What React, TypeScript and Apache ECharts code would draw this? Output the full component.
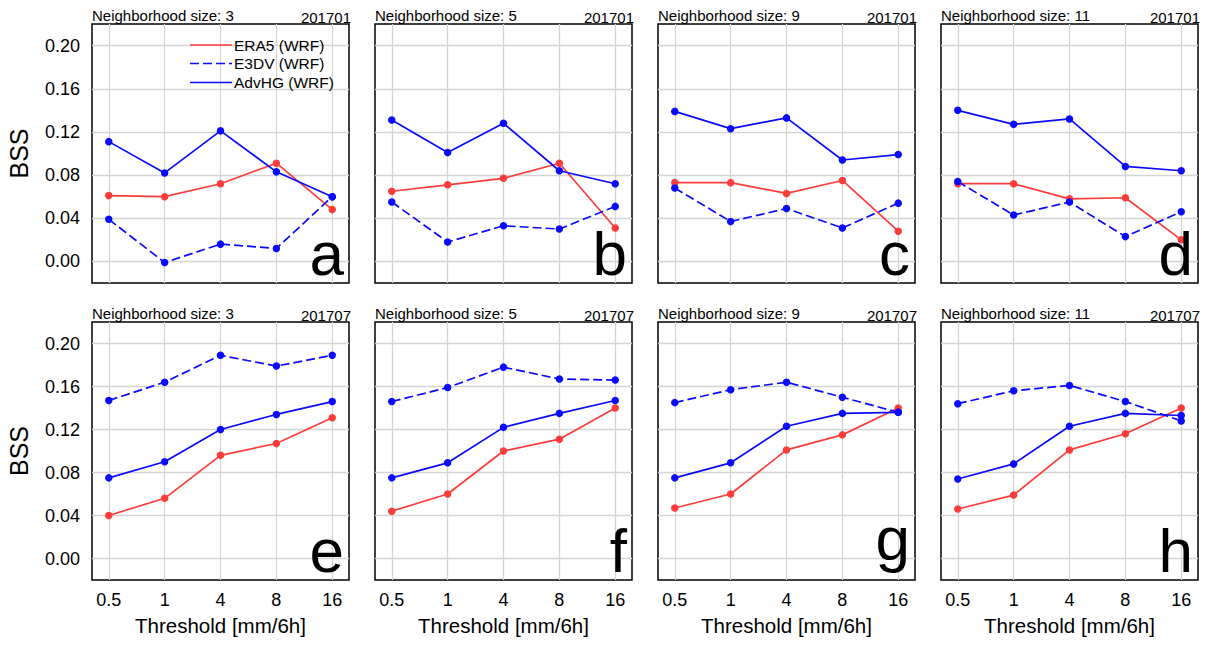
import React, { useEffect, useRef } from "react";
import * as echarts from "echarts";

const thresholds = ["0.5", "1", "4", "8", "16"];
const neighborhoodSizes = [3, 5, 9, 11];
const months = ["201701", "201707"];
const panelLetters = ["a", "b", "c", "d", "e", "f", "g", "h"];
const seriesNames = ["ERA5 (WRF)", "E3DV (WRF)", "AdvHG (WRF)"];
const yTicks = [0, 0.04, 0.08, 0.12, 0.16, 0.2];

// 201701, one row per neighborhood size (3, 5, 9, 11)
const era5Jan = [
  [0.061, 0.060, 0.072, 0.091, 0.048],
  [0.065, 0.071, 0.077, 0.091, 0.031],
  [0.073, 0.073, 0.063, 0.075, 0.028],
  [0.072, 0.072, 0.058, 0.059, 0.020],
];
const e3dvJan = [
  [0.039, -0.001, 0.016, 0.012, 0.060],
  [0.055, 0.018, 0.033, 0.030, 0.051],
  [0.068, 0.037, 0.049, 0.031, 0.054],
  [0.074, 0.043, 0.055, 0.023, 0.046],
];
const advhgJan = [
  [0.111, 0.082, 0.121, 0.083, 0.060],
  [0.131, 0.101, 0.128, 0.084, 0.072],
  [0.139, 0.123, 0.133, 0.094, 0.099],
  [0.140, 0.127, 0.132, 0.088, 0.084],
];

// 201707
const era5Jul = [
  [0.040, 0.056, 0.096, 0.107, 0.131],
  [0.044, 0.060, 0.100, 0.111, 0.140],
  [0.047, 0.060, 0.101, 0.115, 0.140],
  [0.046, 0.059, 0.101, 0.116, 0.140],
];
const e3dvJul = [
  [0.147, 0.164, 0.189, 0.179, 0.189],
  [0.146, 0.159, 0.178, 0.167, 0.166],
  [0.145, 0.157, 0.164, 0.150, 0.136],
  [0.144, 0.156, 0.161, 0.146, 0.128],
];
const advhgJul = [
  [0.075, 0.090, 0.120, 0.134, 0.146],
  [0.075, 0.089, 0.122, 0.135, 0.147],
  [0.075, 0.089, 0.123, 0.135, 0.136],
  [0.074, 0.088, 0.123, 0.135, 0.133],
];

const FONT = "'Liberation Sans', Arial, Helvetica, sans-serif";
const RED = "#ff3c3c";
const BLUE = "#0a0aff";
const GRIDC = "#d4d4d4";

const colLeft = [92, 375, 658, 941];
const rowTop = [24, 322];
const boxW = 257;
const boxH = [259, 258];

export default function App() {
  const ref = useRef<HTMLDivElement>(null);

  useEffect(() => {
    if (!ref.current) return;
    const chart = echarts.init(ref.current, null, { renderer: "svg" });

    const grids: any[] = [];
    const xAxes: any[] = [];
    const yAxes: any[] = [];
    const series: any[] = [];
    const graphics: any[] = [];

    const monthData = [
      [era5Jan, e3dvJan, advhgJan],
      [era5Jul, e3dvJul, advhgJul],
    ];

    let idx = 0;
    for (let r = 0; r < 2; r++) {
      for (let c = 0; c < 4; c++) {
        const left = colLeft[c];
        const top = rowTop[r];
        const h = boxH[r];
        grids.push({
          left,
          top,
          width: boxW,
          height: h,
          show: true,
          borderColor: "#000",
          borderWidth: 1.5,
          backgroundColor: "transparent",
          containLabel: false,
        });
        const showX = r === 1;
        const showY = c === 0;
        xAxes.push({
          type: "value",
          gridIndex: idx,
          min: -0.3,
          max: 4.3,
          axisLine: { show: false },
          axisTick: { show: false, customValues: [0, 1, 2, 3, 4] },
          splitLine: { show: true, lineStyle: { color: GRIDC, width: 1.3 } },
          axisLabel: {
            show: showX,
            customValues: [0, 1, 2, 3, 4],
            formatter: (v: number) => thresholds[Math.round(v)],
            fontSize: 18,
            color: "#000",
            fontFamily: FONT,
            margin: 11,
          },
          name: showX ? "Threshold [mm/6h]" : "",
          nameLocation: "middle",
          nameGap: 35,
          nameTextStyle: { fontSize: 20.5, color: "#000", fontFamily: FONT },
        });
        yAxes.push({
          type: "value",
          gridIndex: idx,
          min: -0.02,
          max: 0.22,
          axisLine: { show: false },
          axisTick: { show: false, customValues: yTicks },
          splitLine: { show: true, lineStyle: { color: GRIDC, width: 1.3 } },
          axisLabel: {
            show: showY,
            customValues: yTicks,
            formatter: (v: number) => v.toFixed(2),
            fontSize: 18,
            color: "#000",
            fontFamily: FONT,
            margin: 12,
          },
          name: showY ? "BSS" : "",
          nameLocation: "middle",
          nameGap: 61,
          nameRotate: 90,
          nameTextStyle: { fontSize: 25, color: "#000", fontFamily: FONT },
        });

        const [era, e3, adv] = monthData[r];
        const lists = [era[c], e3[c], adv[c]];
        const colors = [RED, BLUE, BLUE];
        const types = ["solid", [9, 4], "solid"];
        for (let s = 0; s < 3; s++) {
          series.push({
            type: "line",
            name: seriesNames[s],
            xAxisIndex: idx,
            yAxisIndex: idx,
            data: lists[s].map((v: number, i: number) => [i, v]),
            symbol: "circle",
            symbolSize: 7.5,
            showSymbol: true,
            lineStyle: { color: colors[s], width: 1.7, type: types[s] },
            itemStyle: { color: colors[s] },
            z: 3 + s,
          });
        }

        // titles
        graphics.push({
          type: "text",
          x: left,
          y: top - 1,
          style: {
            text: `Neighborhood size: ${neighborhoodSizes[c]}`,
            fontSize: 15,
            fontFamily: FONT,
            fill: "#000",
            align: "left",
            verticalAlign: "bottom",
          },
        });
        graphics.push({
          type: "text",
          x: left + boxW + 2,
          y: top + 1,
          style: {
            text: months[r],
            fontSize: 15,
            fontFamily: FONT,
            fill: "#000",
            align: "right",
            verticalAlign: "bottom",
          },
        });
        // panel letter (bounding box sits ~6px above the frame bottom)
        const letter = panelLetters[idx];
        const descender = /[gjpqy]/.test(letter) ? 12 : 0;
        graphics.push({
          type: "text",
          x: left + boxW - 5,
          y: top + h + 1 - descender,
          z: 10,
          style: {
            text: letter,
            fontSize: 62,
            fontFamily: FONT,
            fill: "#000",
            align: "right",
            verticalAlign: "bottom",
          },
        });
        idx++;
      }
    }

    // legend inside panel a
    const legY = [45, 63.5, 82.5];
    const legColors = [RED, BLUE, BLUE];
    const legDash = [null, [9, 4], null];
    for (let s = 0; s < 3; s++) {
      graphics.push({
        type: "line",
        z: 10,
        shape: { x1: 190, y1: legY[s], x2: 232, y2: legY[s] },
        style: { stroke: legColors[s], lineWidth: 1.7, lineDash: legDash[s] },
      });
      graphics.push({
        type: "text",
        z: 10,
        x: 234,
        y: legY[s],
        style: {
          text: seriesNames[s],
          fontSize: 15.5,
          fontFamily: FONT,
          fill: "#000",
          align: "left",
          verticalAlign: "middle",
        },
      });
    }

    chart.setOption({
      animation: false,
      backgroundColor: "#fff",
      grid: grids,
      xAxis: xAxes,
      yAxis: yAxes,
      series,
      graphic: graphics,
    });
    return () => chart.dispose();
  }, []);

  return (
    <div
      ref={ref}
      style={{ position: "absolute", left: 0, top: 0, width: 1208, height: 645 }}
    />
  );
}
